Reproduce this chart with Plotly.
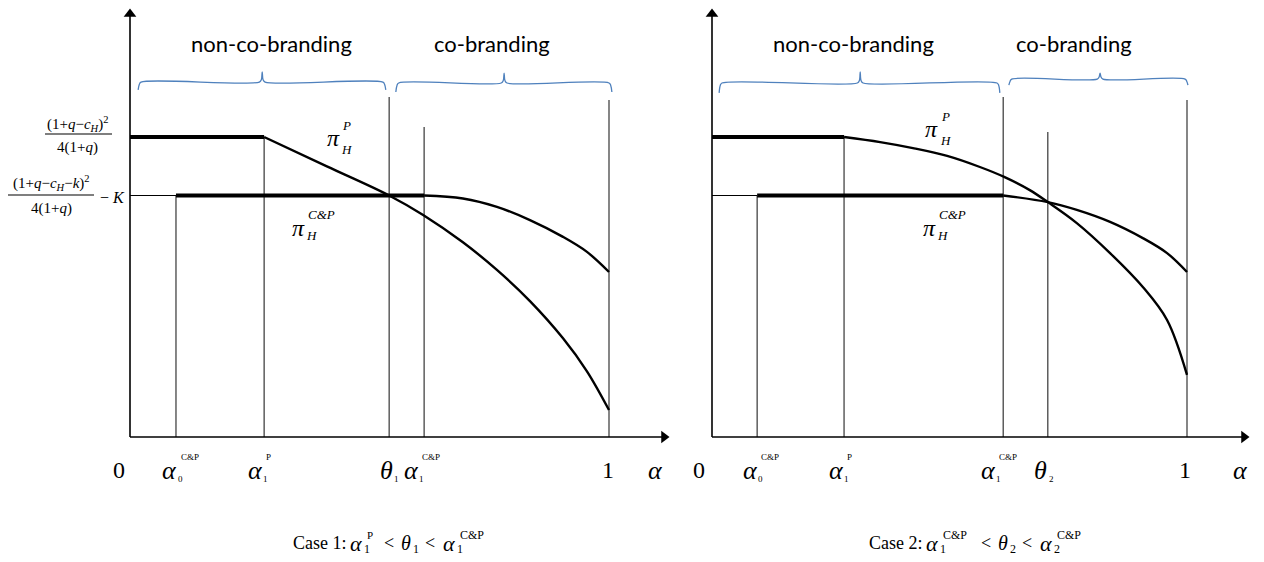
import plotly.graph_objects as go

# ---------------- data ----------------
LEVEL_P = 1.0      # plateau of pi_H^P
LEVEL_CP = 0.805   # plateau of pi_H^{C&P}

# Case 1 thresholds on alpha
c1_alpha0_cp = 0.096
c1_alpha1_p = 0.280
c1_theta1 = 0.541
c1_alpha1_cp = 0.614

# Case 1 declining parts of the profit curves
c1_piP_x = [0.280, 0.411, 0.541, 0.612, 0.695, 0.766, 0.835, 0.904, 0.954, 1.0]
c1_piP_y = [1.000, 0.902, 0.805, 0.740, 0.649, 0.557, 0.453, 0.329, 0.219, 0.090]
c1_piCP_x = [0.614, 0.695, 0.766, 0.835, 0.904, 0.954, 1.0]
c1_piCP_y = [0.805, 0.795, 0.767, 0.723, 0.667, 0.617, 0.550]

# Case 2 thresholds on alpha
c2_alpha0_cp = 0.095
c2_alpha1_p = 0.278
c2_alpha1_cp = 0.613
c2_theta2 = 0.707

# Case 2 declining parts of the profit curves
c2_piP_x = [0.278, 0.354, 0.423, 0.495, 0.564, 0.615, 0.669, 0.707, 0.768, 0.838, 0.907, 0.958, 1.0]
c2_piP_y = [1.000, 0.983, 0.963, 0.937, 0.900, 0.867, 0.823, 0.783, 0.713, 0.613, 0.500, 0.390, 0.207]
c2_piCP_x = [0.613, 0.707, 0.768, 0.838, 0.907, 0.958, 1.0]
c2_piCP_y = [0.805, 0.783, 0.757, 0.717, 0.663, 0.613, 0.550]

# heights of the thin guide lines rising from the alpha axis
c1_guide_x = [c1_alpha0_cp, c1_alpha1_p, c1_theta1, c1_alpha1_cp, 1.0]
c1_guide_top = [LEVEL_CP, LEVEL_P, 1.133, 1.033, 1.123]
c2_guide_x = [c2_alpha0_cp, c2_alpha1_p, c2_alpha1_cp, c2_theta2, 1.0]
c2_guide_top = [LEVEL_CP, LEVEL_P, 1.133, 1.017, 1.123]

# ---------------- layout constants ----------------
W, H = 1264, 562
SERIF = "Liberation Serif"
SANS = "Lato"
BRACE_BLUE = "#4F81BD"

# pixel anchors of the two coordinate systems
Y0_PX, Y_UNIT = 437, 300
L0_PX, L_UNIT = 130, 479
R0_PX, R_UNIT = 712, 475
L_DOM = [0.0, 0.545]
R_DOM = [0.52, 1.0]


def xr(dom, origin, unit):
    return [(dom[0] * W - origin) / unit, (dom[1] * W - origin) / unit]


fig = go.Figure()


def line(xs, ys, xa, width, color="black", shape="linear"):
    fig.add_trace(go.Scatter(x=xs, y=ys, mode="lines", xaxis=xa, yaxis="y",
                             line=dict(color=color, width=width, shape=shape),
                             hoverinfo="skip", showlegend=False))


def label(text, x, y, xref, yref, size, dx=0, dy=0, xanchor="center", family=SERIF, color="black"):
    fig.add_annotation(text=text, x=x, y=y, xref=xref, yref=yref, xshift=dx, yshift=dy,
                       xanchor=xanchor, yanchor="middle", showarrow=False,
                       font=dict(family=family, size=size, color=color))


def scripted(base, x, y, xref, yref, size, sub=None, sup=None, script_size=10,
             dx=0, dy=0, sub_dx=5, sub_dy=-8, sup_dx=7, sup_dy=10):
    label(base, x, y, xref, yref, size, dx=dx, dy=dy)
    if sub:
        label(sub, x, y, xref, yref, script_size, dx=dx + sub_dx, dy=dy + sub_dy, xanchor="left")
    if sup:
        label(sup, x, y, xref, yref, script_size, dx=dx + sup_dx, dy=dy + sup_dy, xanchor="left")


def axes_arrows(xa, x_tip, y_tip):
    # axis lines with filled triangular heads
    line([0, x_tip], [0, 0], xa, 1.6)
    line([0, 0], [0, y_tip], xa, 1.6)
    fig.add_trace(go.Scatter(x=[x_tip, 0], y=[0, y_tip], mode="markers", xaxis=xa, yaxis="y",
                             marker=dict(symbol=["triangle-right", "triangle-up"], size=11,
                                         color="black", line=dict(width=0)),
                             hoverinfo="skip", showlegend=False))


def brace(xa, x0, x1, xc, y_h, y_end, y_peak):
    e = 0.006
    xs = [x0, x0 + e * 0.4, x0 + e, xc - e, xc - e * 0.3, xc, xc + e * 0.3, xc + e, x1 - e, x1 - e * 0.4, x1]
    ys = [y_end, y_h - 0.008, y_h, y_h, y_h + 0.008, y_peak, y_h + 0.008, y_h, y_h, y_h - 0.008, y_end]
    line(xs, ys, xa, 1.3, color=BRACE_BLUE, shape="spline")


def guides(xa, gx, gtop):
    xs, ys = [], []
    for gxi, top in zip(gx, gtop):
        xs += [gxi, gxi, None]
        ys += [0, top, None]
    line(xs, ys, xa, 1.1, color="#222222")


def panel(xa, a0, a1p, a1cp, px, py, cx, cy):
    # reference level from the axis to alpha_0^{C&P}
    line([0, a0], [LEVEL_CP, LEVEL_CP], xa, 1.1)
    # plateaus
    line([0, a1p], [LEVEL_P, LEVEL_P], xa, 4)
    line([a0, a1cp], [LEVEL_CP, LEVEL_CP], xa, 4)
    # declining parts
    line(px, py, xa, 2.4, shape="spline")
    line(cx, cy, xa, 2.4, shape="spline")


XREF_L, XREF_R = "x", "x2"

# ---------- Case 1 panel ----------
guides(XREF_L, c1_guide_x, c1_guide_top)
panel(XREF_L, c1_alpha0_cp, c1_alpha1_p, c1_alpha1_cp, c1_piP_x, c1_piP_y, c1_piCP_x, c1_piCP_y)
axes_arrows(XREF_L, (664 - L0_PX) / L_UNIT, 1.41)
brace(XREF_L, 0.017, 0.534, 0.276, 1.183, 1.157, 1.217)
brace(XREF_L, 0.555, 1.006, 0.781, 1.180, 1.150, 1.213)
label("non-co-branding", 0.296, 1.313, XREF_L, "y", 22, family=SANS)
label("co-branding", 0.756, 1.313, XREF_L, "y", 22, family=SANS)

# ---------- Case 2 panel ----------
guides(XREF_R, c2_guide_x, c2_guide_top)
panel(XREF_R, c2_alpha0_cp, c2_alpha1_p, c2_alpha1_cp, c2_piP_x, c2_piP_y, c2_piCP_x, c2_piCP_y)
axes_arrows(XREF_R, (1244 - R0_PX) / R_UNIT, 1.41)
brace(XREF_R, 0.015, 0.606, 0.312, 1.180, 1.147, 1.217)
brace(XREF_R, 0.625, 1.002, 0.817, 1.193, 1.173, 1.213)
label("non-co-branding", 0.297, 1.313, XREF_R, "y", 22, family=SANS)
label("co-branding", 0.762, 1.313, XREF_R, "y", 22, family=SANS)

# ---------- curve labels ----------
PI = "<i>π</i>"
scripted(PI, 0.424, 0.997, XREF_L, "y", 24, sub="<i>H</i>", sup="<i>P</i>", script_size=13,
         sub_dx=6, sub_dy=-12, sup_dx=7, sup_dy=12)
scripted(PI, 0.351, 0.697, XREF_L, "y", 24, sub="<i>H</i>", sup="<i>C&P</i>", script_size=13,
         sub_dx=6, sub_dy=-8, sup_dx=8, sup_dy=13)
scripted(PI, 0.463, 1.027, XREF_R, "y", 24, sub="<i>H</i>", sup="<i>P</i>", script_size=13,
         sub_dx=6, sub_dy=-12, sup_dx=7, sup_dy=12)
scripted(PI, 0.457, 0.697, XREF_R, "y", 24, sub="<i>H</i>", sup="<i>C&P</i>", script_size=13,
         sub_dx=6, sub_dy=-8, sup_dx=8, sup_dy=13)

# ---------- alpha-axis labels ----------
ALPHA, THETA = "<i>α</i>", "<i>θ</i>"
c1_ticks = [
    (0.0, "0", None, None, -11),
    (c1_alpha0_cp, ALPHA, "0", "C&P", -6),
    (c1_alpha1_p, ALPHA, "1", "P", -9),
    (c1_theta1, THETA, "1", None, -3),
    (c1_alpha1_cp, ALPHA, "1", "C&P", -13),
    (1.0, "1", None, None, -1),
    ((655 - L0_PX) / L_UNIT, ALPHA, None, None, 0),
]
c2_ticks = [
    (0.0, "0", None, None, -13),
    (c2_alpha0_cp, ALPHA, "0", "C&P", -7),
    (c2_alpha1_p, ALPHA, "1", "P", -8),
    (c2_alpha1_cp, ALPHA, "1", "C&P", -15),
    (c2_theta2, THETA, "2", None, -7),
    (1.0, "1", None, None, -2),
    ((1240 - R0_PX) / R_UNIT, ALPHA, None, None, 0),
]
for xa, ticks in [(XREF_L, c1_ticks), (XREF_R, c2_ticks)]:
    for (v, base, sub, sup, dx) in ticks:
        size = 24 if base in ("0", "1") else 26
        scripted(base, v, 0, xa, "y", size, sub=sub, sup=sup, script_size=9, dx=dx, dy=-33,
                 sub_dx=6, sub_dy=-9, sup_dx=9, sup_dy=13)

# ---------- profit-level labels (fractions) ----------
def frac(num, den, cx_px, num_py, bar_py, den_py, x0_px, x1_px, size):
    label(num, cx_px / W, 1 - num_py / H, "paper", "paper", size)
    label(den, cx_px / W, 1 - den_py / H, "paper", "paper", size)
    fig.add_shape(type="line", xref="paper", yref="paper", x0=x0_px / W, x1=x1_px / W,
                  y0=1 - bar_py / H, y1=1 - bar_py / H, line=dict(color="black", width=1.2))


frac("(1+<i>q</i>−<i>c</i><sub><i>H</i></sub>)<sup>2</sup>", "4(1+<i>q</i>)",
     77, 124, 134, 147, 45, 112, 15)
frac("(1+<i>q</i>−<i>c</i><sub><i>H</i></sub>−<i>k</i>)<sup>2</sup>", "4(1+<i>q</i>)",
     51, 183, 195, 209, 8, 94, 15)
label("− <i>K</i>", 98 / W, 1 - 197 / H, "paper", "paper", 16, xanchor="left")

# ---------- captions ----------
CAP_Y = 1 - 543 / H


def cap(text, px, size=18, dy=0, xanchor="center"):
    label(text, px / W, CAP_Y, "paper", "paper", size, dy=dy, xanchor=xanchor)


cap("Case 1:", 291, xanchor="left")
cap(ALPHA, 356, size=22)
cap("1", 362, size=12, dy=-6, xanchor="left")
cap("P", 365, size=11, dy=8, xanchor="left")
cap("<", 389)
cap(THETA, 406, size=20)
cap("1", 411, size=12, dy=-6, xanchor="left")
cap("<", 430)
cap(ALPHA, 449, size=22)
cap("1", 455, size=12, dy=-6, xanchor="left")
cap("C&P", 458, size=12, dy=8, xanchor="left")

cap("Case 2:", 867, xanchor="left")
cap(ALPHA, 932, size=22)
cap("1", 938, size=12, dy=-6, xanchor="left")
cap("C&P", 941, size=12, dy=8, xanchor="left")
cap("<", 986)
cap(THETA, 1003, size=20)
cap("2", 1008, size=12, dy=-6, xanchor="left")
cap("<", 1027)
cap(ALPHA, 1046, size=22)
cap("2", 1052, size=12, dy=-6, xanchor="left")
cap("C&P", 1055, size=12, dy=8, xanchor="left")

# ---------- axes ----------
hidden = dict(visible=False, showgrid=False, zeroline=False, fixedrange=True)
fig.update_layout(
    width=W, height=H, margin=dict(l=0, r=0, t=0, b=0),
    paper_bgcolor="white", plot_bgcolor="rgba(0,0,0,0)", showlegend=False,
    xaxis=dict(domain=L_DOM, range=xr(L_DOM, L0_PX, L_UNIT), anchor="y", **hidden),
    xaxis2=dict(domain=R_DOM, range=xr(R_DOM, R0_PX, R_UNIT), anchor="y", **hidden),
    yaxis=dict(domain=[0, 1], range=[(Y0_PX - H) / Y_UNIT, Y0_PX / Y_UNIT], **hidden),
)

fig.write_html("out.html")
